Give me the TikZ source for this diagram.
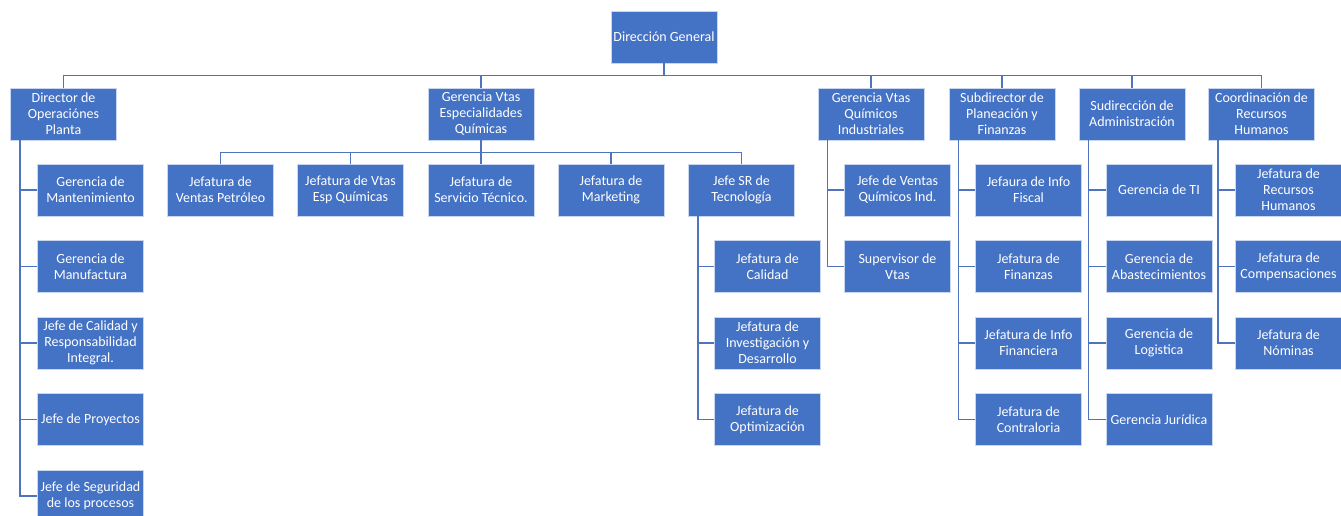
\documentclass[tikz,border=0pt]{standalone}
\usepackage{fontspec}
\setmainfont{Carlito}
\definecolor{boxblue}{RGB}{68,114,196}
\definecolor{lineblue}{RGB}{78,116,190}
\definecolor{edgeblue}{RGB}{200,214,240}
\begin{document}
\begin{tikzpicture}[x=0.75pt,y=-0.75pt,
  orgbox/.style={draw=edgeblue, line width=0.6pt, fill=boxblue, text=white,
    minimum width=79.5pt, minimum height=39pt, inner sep=0pt, align=center,
    font=\fontsize{10.5}{12}\selectfont},
  conn/.style={draw=lineblue, line width=1.2pt}]
\useasboundingbox (0,0) rectangle (1341,516);

% top
\node[orgbox] (dg) at (664,37) {Dirección General};

% level 1
\node[orgbox] (dop) at (63.5,114) {Director de\\Operaciónes\\Planta};
\node[orgbox] (gve) at (481,114) {Gerencia Vtas\\Especialidades\\Químicas};
\node[orgbox] (gvq) at (871,114) {Gerencia Vtas\\Químicos\\Industriales};
\node[orgbox] (spf) at (1002,114) {Subdirector de\\Planeación y\\Finanzas};
\node[orgbox] (sad) at (1132,114) {Sudirección de\\Administración};
\node[orgbox] (crh) at (1261.5,114) {Coordinación de\\Recursos\\Humanos};

\foreach \c in {dop,gve,gvq,spf,sad,crh}
  \draw[conn] (dg.south) -- ++(0,12) -| (\c.north);

% Director de Operaciones children
\node[orgbox] (dop1) at (90.5,190) {Gerencia de\\Mantenimiento};
\node[orgbox] (dop2) at (90.5,266.5) {Gerencia de\\Manufactura};
\node[orgbox] (dop3) at (90.5,343) {Jefe de Calidad y\\Responsabilidad\\Integral.};
\node[orgbox] (dop4) at (90.5,419.5) {Jefe de Proyectos};
\node[orgbox] (dop5) at (90.5,496) {Jefe de Seguridad\\de los procesos};
\foreach \c in {dop1,dop2,dop3,dop4,dop5}
  \draw[conn] ([xshift=7.5pt]dop.south west) |- (\c.west);

% Gerencia Vtas Especialidades children
\node[orgbox] (gve1) at (220.5,190) {Jefatura de\\Ventas Petróleo};
\node[orgbox] (gve2) at (350.5,190) {Jefatura de Vtas\\Esp Químicas};
\node[orgbox] (gve3) at (481,190) {Jefatura de\\Servicio Técnico.};
\node[orgbox] (gve4) at (611,190) {Jefatura de\\Marketing};
\node[orgbox] (gve5) at (741.5,190) {Jefe SR de\\Tecnología};
\foreach \c in {gve1,gve2,gve3,gve4,gve5}
  \draw[conn] (gve.south) -- ++(0,12) -| (\c.north);

% Jefe SR de Tecnologia children
\node[orgbox] (tec1) at (767.5,266.5) {Jefatura de\\Calidad};
\node[orgbox] (tec2) at (767.5,343) {Jefatura de\\Investigación y\\Desarrollo};
\node[orgbox] (tec3) at (767.5,419.5) {Jefatura de\\Optimización};
\foreach \c in {tec1,tec2,tec3}
  \draw[conn] ([xshift=7.5pt]gve5.south west) |- (\c.west);

% Gerencia Vtas Quimicos Industriales children
\node[orgbox] (gvq1) at (897.5,190) {Jefe de Ventas\\Químicos Ind.};
\node[orgbox] (gvq2) at (897.5,266.5) {Supervisor de\\Vtas};
\foreach \c in {gvq1,gvq2}
  \draw[conn] ([xshift=7.5pt]gvq.south west) |- (\c.west);

% Subdirector children
\node[orgbox] (spf1) at (1028.5,190) {Jefaura de Info\\Fiscal};
\node[orgbox] (spf2) at (1028.5,266.5) {Jefatura de\\Finanzas};
\node[orgbox] (spf3) at (1028.5,343) {Jefatura de Info\\Financiera};
\node[orgbox] (spf4) at (1028.5,419.5) {Jefatura de\\Contraloria};
\foreach \c in {spf1,spf2,spf3,spf4}
  \draw[conn] ([xshift=7.5pt]spf.south west) |- (\c.west);

% Sudireccion children
\node[orgbox] (sad1) at (1159,190) {Gerencia de TI};
\node[orgbox] (sad2) at (1159,266.5) {Gerencia de\\Abastecimientos};
\node[orgbox] (sad3) at (1159,343) {Gerencia de\\Logistica};
\node[orgbox] (sad4) at (1159,419.5) {Gerencia Jurídica};
\foreach \c in {sad1,sad2,sad3,sad4}
  \draw[conn] ([xshift=7.5pt]sad.south west) |- (\c.west);

% Coordinacion children
\node[orgbox] (crh1) at (1288.5,190) {Jefatura de\\Recursos\\Humanos};
\node[orgbox] (crh2) at (1288.5,266.5) {Jefatura de\\Compensaciones};
\node[orgbox] (crh3) at (1288.5,343) {Jefatura de\\Nóminas};
\foreach \c in {crh1,crh2,crh3}
  \draw[conn] ([xshift=7.5pt]crh.south west) |- (\c.west);
\end{tikzpicture}
\end{document}
